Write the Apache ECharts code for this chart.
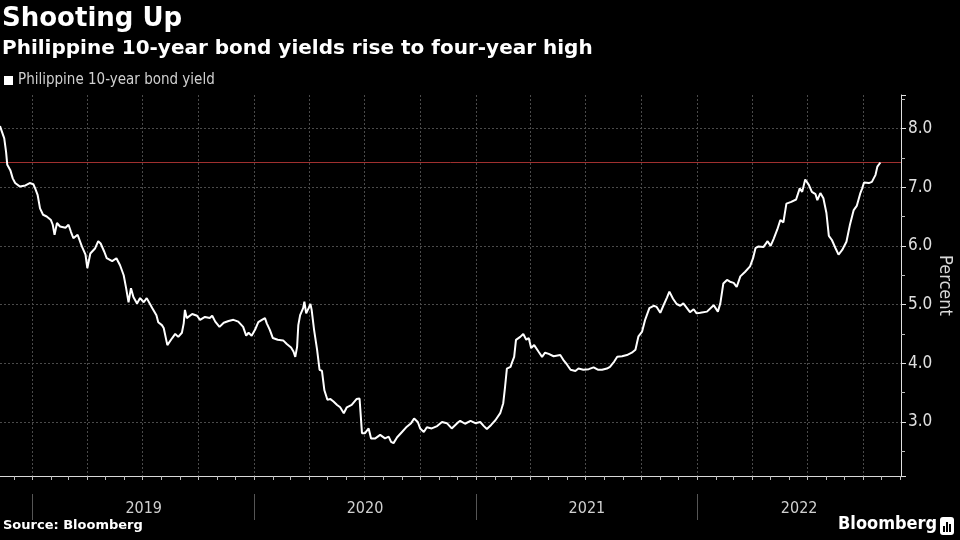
<!DOCTYPE html>
<html><head><meta charset="utf-8">
<script src="https://cdn.jsdelivr.net/npm/echarts@6/dist/echarts.min.js"></script>
<style>html,body{margin:0;padding:0;background:#000}#c{width:960px;height:540px}</style>
</head><body><div id="c"></div>
<script>
// ---- data ----
const seriesName = 'Philippine 10-year bond yield';
const dates = [
'2018-11-08','2018-11-15','2018-11-18','2018-11-20','2018-11-25','2018-11-29','2018-12-03','2018-12-11','2018-12-20','2018-12-27',
'2019-01-02','2019-01-05','2019-01-09','2019-01-13','2019-01-18','2019-01-24','2019-01-31','2019-02-03','2019-02-06','2019-02-10',
'2019-02-15','2019-02-24','2019-03-01','2019-03-05','2019-03-09','2019-03-16','2019-03-23','2019-03-29','2019-04-01','2019-04-06',
'2019-04-14','2019-04-19','2019-04-23','2019-04-29','2019-05-03','2019-05-12','2019-05-19','2019-05-25','2019-05-31','2019-06-04',
'2019-06-08','2019-06-12','2019-06-16','2019-06-22','2019-06-27','2019-07-03','2019-07-08','2019-07-17','2019-07-24','2019-07-27',
'2019-08-02','2019-08-05','2019-08-11','2019-08-19','2019-08-24','2019-08-29','2019-09-04','2019-09-07','2019-09-09','2019-09-12',
'2019-09-21','2019-09-29','2019-10-04','2019-10-12','2019-10-20','2019-10-24','2019-10-29','2019-11-05','2019-11-12','2019-11-20',
'2019-11-28','2019-12-06','2019-12-14','2019-12-19','2019-12-23','2019-12-28',
'2020-01-03','2020-01-08','2020-01-14','2020-01-19','2020-01-22','2020-01-27','2020-02-01','2020-02-09','2020-02-18','2020-02-24',
'2020-03-02','2020-03-06','2020-03-09','2020-03-12','2020-03-14','2020-03-17','2020-03-22','2020-03-24','2020-03-27','2020-03-31',
'2020-04-03','2020-04-05','2020-04-09','2020-04-14','2020-04-18','2020-04-22','2020-04-26','2020-05-01','2020-05-06','2020-05-11',
'2020-05-17','2020-05-22','2020-05-28','2020-06-02','2020-06-10','2020-06-18','2020-06-23','2020-06-27','2020-07-02','2020-07-08',
'2020-07-12','2020-07-19','2020-07-27','2020-08-04','2020-08-10','2020-08-14','2020-08-18','2020-08-24','2020-09-01','2020-09-09',
'2020-09-16','2020-09-21','2020-09-27','2020-10-01','2020-10-07','2020-10-12','2020-10-20','2020-10-29','2020-11-06','2020-11-14',
'2020-11-22','2020-12-01','2020-12-06','2020-12-14','2020-12-23','2020-12-31',
'2021-01-08','2021-01-14','2021-01-19','2021-01-26','2021-02-02','2021-02-10','2021-02-15','2021-02-18','2021-02-21','2021-02-27',
'2021-03-02','2021-03-05','2021-03-08','2021-03-15','2021-03-20','2021-03-25','2021-03-29','2021-04-02','2021-04-07','2021-04-14',
'2021-04-20','2021-04-25','2021-05-01','2021-05-09','2021-05-20','2021-05-25','2021-05-31','2021-06-06','2021-06-14','2021-06-19',
'2021-06-27','2021-07-06','2021-07-14','2021-07-21','2021-07-28','2021-08-05','2021-08-10','2021-08-17','2021-08-22','2021-08-30',
'2021-09-07','2021-09-15','2021-09-21','2021-09-26','2021-10-02','2021-10-07','2021-10-14','2021-10-21','2021-10-26','2021-11-01',
'2021-11-06','2021-11-12','2021-11-16','2021-11-22','2021-11-28','2021-12-04','2021-12-09','2021-12-15','2021-12-20','2021-12-26',
'2021-12-31',
'2022-01-06','2022-01-17','2022-01-28','2022-02-04','2022-02-08','2022-02-13','2022-02-19','2022-02-24','2022-03-02','2022-03-07',
'2022-03-13','2022-03-21','2022-03-29','2022-04-03','2022-04-07','2022-04-12','2022-04-20','2022-04-27','2022-05-02','2022-05-07',
'2022-05-13','2022-05-18','2022-05-23','2022-05-28','2022-06-05','2022-06-13','2022-06-19','2022-06-23','2022-06-28','2022-07-04',
'2022-07-09','2022-07-15','2022-07-18','2022-07-23','2022-07-28','2022-08-02','2022-08-06','2022-08-11','2022-08-17','2022-08-22',
'2022-08-28','2022-09-04','2022-09-10','2022-09-16','2022-09-21','2022-09-27','2022-09-30','2022-10-03','2022-10-11','2022-10-16',
'2022-10-22','2022-10-25','2022-10-30'
];
const yields = [
8.04,7.83,7.60,7.38,7.29,7.15,7.07,7.01,7.03,7.07,
7.05,6.98,6.87,6.64,6.53,6.50,6.44,6.36,6.19,6.39,
6.33,6.31,6.36,6.24,6.13,6.19,5.99,5.85,5.62,5.87,
5.96,6.08,6.04,5.90,5.79,5.74,5.79,5.67,5.50,5.28,
5.04,5.28,5.13,5.02,5.11,5.04,5.11,4.94,4.82,4.70,
4.65,4.60,4.31,4.43,4.50,4.45,4.52,4.68,4.91,4.77,
4.84,4.81,4.74,4.79,4.77,4.81,4.71,4.62,4.69,4.72,
4.74,4.71,4.62,4.47,4.52,4.47,
4.58,4.70,4.74,4.77,4.68,4.57,4.43,4.40,4.39,4.33,
4.27,4.20,4.11,4.28,4.65,4.82,4.94,5.05,4.85,4.94,
5.01,4.91,4.57,4.23,3.89,3.87,3.54,3.38,3.39,3.35,
3.29,3.25,3.15,3.25,3.29,3.39,3.40,2.81,2.81,2.89,
2.72,2.72,2.78,2.72,2.75,2.66,2.64,2.74,2.83,2.92,
2.98,3.06,3.00,2.89,2.83,2.91,2.89,2.93,3.00,2.98,
2.89,2.98,3.02,2.97,3.02,2.98,
3.00,2.93,2.88,2.95,3.03,3.15,3.32,3.60,3.91,3.94,
4.03,4.11,4.40,4.45,4.50,4.40,4.43,4.26,4.31,4.20,
4.11,4.18,4.16,4.12,4.14,4.06,3.98,3.89,3.87,3.91,
3.89,3.90,3.93,3.89,3.89,3.91,3.94,4.03,4.11,4.12,
4.14,4.18,4.23,4.46,4.54,4.74,4.94,4.98,4.96,4.86,
4.98,5.12,5.22,5.10,5.01,4.98,5.02,4.94,4.87,4.92,
4.85,
4.86,4.88,4.99,4.88,5.02,5.36,5.42,5.39,5.37,5.30,
5.48,5.56,5.65,5.79,5.96,5.99,5.98,6.08,6.00,6.12,
6.28,6.44,6.40,6.72,6.75,6.79,6.98,6.92,7.13,7.04,
6.92,6.88,6.78,6.90,6.81,6.56,6.17,6.10,5.96,5.85,
5.93,6.07,6.37,6.61,6.68,6.90,6.98,7.08,7.07,7.09,
7.21,7.35,7.42
];
const yearLabels = ['2019','2020','2021','2022'];
const axisStart = '2018-11-08';
const axisEnd = '2022-12-03';
const yMin = 2.08, yMax = 8.57;

// ---- build category axis (one slot per day) ----
const cats = [];
for (let t = Date.parse(axisStart + 'T00:00:00Z'); t <= Date.parse(axisEnd + 'T00:00:00Z'); t += 86400000) {
  cats.push(new Date(t).toISOString().slice(0, 10));
}
const idx = {};
cats.forEach((c, i) => idx[c] = i);
const seriesData = dates.map((d, i) => [idx[d], yields[i]]);
const labelAt = {};
yearLabels.forEach(y => {
  const s = idx[y + '-01-01'];
  const nx = idx[(+y + 1) + '-01-01'];
  const e = nx === undefined ? cats.length - 1 : nx;
  labelAt[Math.round((s + e) / 2)] = y;
});
const lastYield = yields[yields.length - 1];

const COND = "'DejaVu Sans Condensed','DejaVu Sans',sans-serif";
const BOLD = "'DejaVu Sans',sans-serif";

const chart = echarts.init(document.getElementById('c'), null, {renderer: 'canvas'});
chart.setOption({
  backgroundColor: '#000',
  animation: false,
  title: {
    text: 'Shooting Up',
    subtext: 'Philippine 10-year bond yields rise to four-year high',
    left: 2, top: 6, padding: 0, itemGap: 7,
    textStyle: {color: '#fff', fontSize: 26, fontWeight: 'bold', fontFamily: BOLD},
    subtextStyle: {color: '#fff', fontSize: 20, fontWeight: 'bold', fontFamily: BOLD}
  },
  legend: {
    left: 4, top: 73, padding: 0,
    icon: 'rect', itemWidth: 9, itemHeight: 9, itemGap: 4,
    textStyle: {color: '#d0d0d0', fontSize: 15, fontFamily: COND},
    data: [seriesName]
  },
  grid: {left: 0, right: 59, top: 95, bottom: 64, containLabel: false, outerBoundsMode: 'none'},
  xAxis: [{
    type: 'category', data: cats, boundaryGap: false,
    axisLine: {show: true, lineStyle: {color: '#d8d8d8', width: 1}},
    axisTick: {show: true, length: 4, interval: (i, v) => v.slice(8) === '01', lineStyle: {color: '#bbb'}},
    axisLabel: {show: false},
    splitLine: {show: true, interval: (i, v) => v.slice(8) === '01' && ['01','04','07','10'].includes(v.slice(5, 7)),
      lineStyle: {color: '#4a4a4a', type: [2, 2], width: 1}}
  }, {
    type: 'category', data: cats, boundaryGap: false, position: 'bottom', offset: 18,
    axisLine: {show: false},
    axisTick: {show: true, length: 26, interval: (i, v) => v.slice(5) === '01-01', lineStyle: {color: '#555'}},
    axisLabel: {show: true, interval: (i) => labelAt[i] !== undefined, formatter: (v, i) => labelAt[i] || '',
      color: '#d0d0d0', fontSize: 16, fontFamily: COND, margin: 7},
    splitLine: {show: false}
  }],
  yAxis: {
    type: 'value', position: 'right', min: yMin, max: yMax, minInterval: 1, maxInterval: 1,
    name: 'Percent', nameLocation: 'middle', nameRotate: -90, nameGap: 35, nameMoveOverlap: false,
    nameTextStyle: {color: '#d8d8d8', fontSize: 18, fontFamily: COND},
    axisLine: {show: true, lineStyle: {color: '#e0e0e0', width: 1}},
    axisTick: {show: true, length: 5, lineStyle: {color: '#e0e0e0'}},
    minorTick: {show: true, splitNumber: 2, length: 4, lineStyle: {color: '#bbb'}},
    axisLabel: {color: '#e0e0e0', fontSize: 17, fontFamily: COND, margin: 7, showMinLabel: false, showMaxLabel: false,
      formatter: v => Math.abs(v - Math.round(v)) < 1e-6 ? v.toFixed(1) : ''},
    splitLine: {show: true, showMinLine: false, showMaxLine: false, lineStyle: {color: '#4a4a4a', type: [2, 2], width: 1}}
  },
  series: [{
    name: seriesName, type: 'line', xAxisIndex: 0, data: seriesData,
    showSymbol: false, symbol: 'none', color: '#fff',
    lineStyle: {color: '#fff', width: 2}, z: 3,
    markLine: {
      silent: true, symbol: 'none', label: {show: false},
      lineStyle: {color: '#a0302f', width: 1, type: 'solid'},
      data: [{yAxis: lastYield}], z: 2
    }
  }],
  graphic: [
    {type: 'text', left: 3, top: 519, style: {text: 'Source: Bloomberg', fill: '#fff', font: "bold 13px 'DejaVu Sans', sans-serif"}},
    {type: 'text', left: 838, top: 515, style: {text: 'Bloomberg', fill: '#fff', font: "bold 18px 'DejaVu Sans Condensed','DejaVu Sans',sans-serif"}},
    {type: 'rect', left: 940, top: 517, shape: {width: 14, height: 18, r: 3}, style: {fill: '#fff'}},
    {type: 'rect', left: 943, top: 526, shape: {width: 2, height: 6}, style: {fill: '#000'}},
    {type: 'rect', left: 946, top: 522, shape: {width: 2, height: 10}, style: {fill: '#000'}},
    {type: 'rect', left: 949, top: 524, shape: {width: 2, height: 8}, style: {fill: '#000'}}
  ]
});
</script>
</body></html>
